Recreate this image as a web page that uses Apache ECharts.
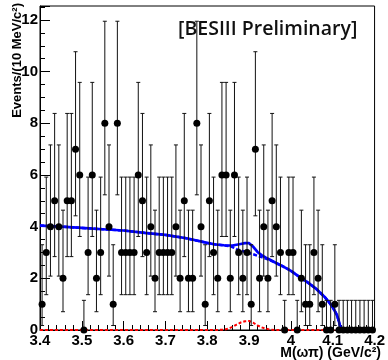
<!DOCTYPE html>
<html>
<head>
<meta charset="utf-8">
<script src="https://cdn.jsdelivr.net/npm/echarts@6/dist/echarts.min.js"></script>
<style>
  html, body { margin: 0; padding: 0; background: #fff; }
  #chart { width: 388px; height: 360px; }
</style>
</head>
<body>
<div id="chart"></div>
<script>
// M(omega pi) spectrum: 80 bins of 10 MeV/c^2 from 3.40 to 4.20 GeV/c^2
const binLow = 3.40;
const binWidth = 0.01;
const counts = [
  1, 3, 4, 5, 4, 2, 5, 5, 7, 6,
  0, 3, 6, 2, 3, 8, 4, 1, 8, 3,
  3, 3, 3, 6, 5, 3, 4, 2, 3, 3,
  3, 3, 4, 2, 5, 2, 2, 8, 4, 1,
  5, 3, 2, 6, 6, 2, 6, 3, 2, 3,
  1, 7, 2, 4, 2, 5, 4, 3, 0, 3,
  3, 0, 2, 1, 1, 3, 2, 1, 0, 0,
  1, 0, 0, 0, 0, 0, 0, 0, 0, 0
];

// 68% Poisson intervals (lower / upper edge) indexed by bin content
const poissonLow  = [0, 0.173, 0.708, 1.367, 2.086, 2.840, 3.620, 4.419, 5.232];
const poissonHigh = [1.148, 3.300, 4.638, 5.918, 7.163, 8.382, 9.584, 10.77, 11.95];

// Fit projections sampled in mass
const curveMass = [3.40, 3.45, 3.50, 3.55, 3.60, 3.65, 3.70, 3.75, 3.80, 3.82,
                   3.84, 3.85, 3.86, 3.87, 3.88, 3.89, 3.90, 3.91, 3.92, 3.93,
                   3.94, 3.95, 3.96, 3.98, 4.00, 4.02, 4.04, 4.06, 4.08, 4.09,
                   4.10, 4.11, 4.115, 4.12, 4.20];
const totalFit  = [4.04, 4.00, 3.95, 3.90, 3.85, 3.76, 3.68, 3.55, 3.37, 3.31,
                   3.28, 3.27, 3.27, 3.30, 3.33, 3.36, 3.36, 3.22, 3.02, 2.90,
                   2.80, 2.72, 2.63, 2.47, 2.29, 2.06, 1.84, 1.60, 1.29, 1.10,
                   0.88, 0.58, 0.32, 0, 0];
const bkgFit    = [4.04, 4.00, 3.95, 3.90, 3.85, 3.76, 3.68, 3.55, 3.37, 3.31,
                   3.27, 3.25, 3.21, 3.13, 3.08, 3.03, 2.98, 2.93, 2.87, 2.82,
                   2.76, 2.70, 2.63, 2.47, 2.29, 2.06, 1.84, 1.60, 1.29, 1.10,
                   0.88, 0.58, 0.32, 0, 0];
const sigFit    = [0, 0, 0, 0, 0, 0, 0, 0, 0, 0,
                   0.01, 0.05, 0.12, 0.21, 0.29, 0.34, 0.35, 0.28, 0.18, 0.10,
                   0.05, 0.02, 0, 0, 0, 0, 0, 0, 0, 0,
                   0, 0, 0, 0, 0];

const axisFont = "'Liberation Sans Narrow', 'Liberation Sans', Arial, sans-serif";

const binCenters = counts.map((_, i) => +(binLow + (i + 0.5) * binWidth).toFixed(3));
const points = counts.map((n, i) => [binCenters[i], n]);
const errBars = counts.map((n, i) => [binCenters[i], poissonLow[n], poissonHigh[n]]);
const pairs = (ys) => curveMass.map((m, i) => [m, ys[i]]);

const chart = echarts.init(document.getElementById('chart'), null, { renderer: 'canvas' });

chart.setOption({
  animation: false,
  backgroundColor: '#fff',
  grid: {
    left: 40, right: 7, top: 6, bottom: 30,
    show: true, borderColor: '#000', borderWidth: 1, backgroundColor: 'transparent'
  },
  xAxis: {
    type: 'value', min: 3.4, max: 4.2, interval: 0.1,
    splitLine: { show: false },
    axisLine: { lineStyle: { color: '#000', width: 1 } },
    axisTick: { inside: true, length: 9, lineStyle: { color: '#000' } },
    minorTick: { show: true, splitNumber: 5, length: 5, lineStyle: { color: '#000' } },
    axisLabel: {
      margin: 3, color: '#000', fontFamily: axisFont, fontWeight: 'bold', fontSize: 15,
      formatter: (v) => String(+v.toFixed(1))
    }
  },
  yAxis: {
    type: 'value', min: 0, max: 12.54, interval: 2,
    splitLine: { show: false },
    axisLine: { show: true, lineStyle: { color: '#000', width: 1 } },
    axisTick: { inside: true, length: 10, lineStyle: { color: '#000' } },
    minorTick: { show: true, splitNumber: 4, length: 5, lineStyle: { color: '#000' } },
    axisLabel: {
      margin: 2, color: '#000', fontFamily: axisFont, fontWeight: 'bold', fontSize: 15,
      showMaxLabel: false
    }
  },
  series: [
    {
      name: 'background', type: 'line', data: pairs(bkgFit), showSymbol: false, z: 3,
      lineStyle: { color: '#0000ff', width: 2.5, type: [4, 2] }
    },
    {
      name: 'total', type: 'line', data: pairs(totalFit), showSymbol: false, z: 4,
      lineStyle: { color: '#0000ff', width: 2.7 }
    },
    {
      name: 'signal', type: 'line', data: pairs(sigFit), showSymbol: false, z: 5,
      lineStyle: { color: '#ff0000', width: 2, type: [3, 2] }
    },
    {
      name: 'errors', type: 'custom', data: errBars, z: 6,
      encode: { x: 0, y: [1, 2] },
      renderItem: (params, api) => {
        const x = api.value(0);
        const lo = api.coord([x, api.value(1)]);
        const hi = api.coord([x, api.value(2)]);
        const st = { stroke: '#111', lineWidth: 1 };
        const cap = 2;
        return {
          type: 'group',
          children: [
            { type: 'line', shape: { x1: lo[0], y1: lo[1], x2: hi[0], y2: hi[1] }, style: st },
            { type: 'line', shape: { x1: hi[0] - cap, y1: hi[1], x2: hi[0] + cap, y2: hi[1] }, style: st },
            { type: 'line', shape: { x1: lo[0] - cap, y1: lo[1], x2: lo[0] + cap, y2: lo[1] }, style: st }
          ]
        };
      }
    },
    {
      name: 'data', type: 'scatter', data: points, z: 7,
      symbol: 'circle', symbolSize: 7,
      itemStyle: { color: '#000', opacity: 1 }
    }
  ],
  graphic: [
    {
      type: 'text', x: 178, y: 29, z: 10,
      style: {
        text: '[BESIII Preliminary]', fill: '#111',
        font: "600 19.5px 'Open Sans', 'Noto Sans', sans-serif",
        align: 'left', verticalAlign: 'middle'
      }
    },
    {
      type: 'text', x: 381, y: 353, z: 10,
      style: {
        text: 'M(ωπ) (GeV/c²)', fill: '#000',
        font: "bold 14px " + axisFont,
        align: 'right', verticalAlign: 'middle'
      }
    },
    {
      type: 'text', x: 17, y: 3, rotation: Math.PI / 2, z: 10,
      style: {
        text: 'Events/(10 MeV/c²)', fill: '#000',
        font: "bold 13px " + axisFont,
        align: 'right', verticalAlign: 'middle'
      }
    }
  ]
});
</script>
</body>
</html>
